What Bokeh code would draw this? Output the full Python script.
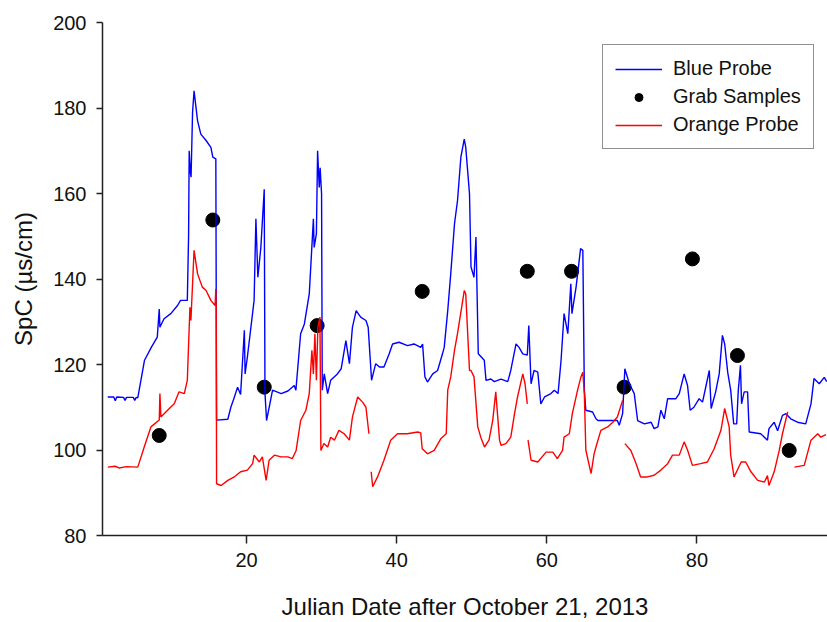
import numpy as np
from bokeh.plotting import figure
from bokeh.models import Range1d, FixedTicker, Legend, LegendItem
from bokeh.embed import file_html
from bokeh.resources import INLINE

NaN = float("nan")

# Blue probe (Julian day, SpC)
blue_x = [1.5, 2.3, 2.5, 2.7, 3.6, 3.8, 4.0, 4.9, 5.1, 5.3, 5.5, 6.4, 7.3, 8.1, 8.36, 8.45, 9.0, 9.9, 10.8,
          11.2, 12.1, 12.27, 12.35, 12.5, 12.6, 12.8, 13.0, 13.47, 13.9, 14.6, 15.24, 15.5, 15.9, 16.0, 17.5,
          17.9, 18.3, 18.8, 19.2, 19.7, 19.8, 20.1, 21.0, 21.24, 21.5, 21.9, 22.35, 22.45, 22.66, 23.46, 24.6,
          25.5, 26.35, 26.57, 27.2, 27.7, 28.35, 28.9, 29.0, 29.3, 29.46, 29.68, 29.8, 29.99, 30.08, 30.35,
          30.8, 31.2, 32.1, 32.6, 33.23, 33.7, 34.1, 34.6, 35.2, 35.9, 36.2, 36.65, 37.2, 37.7, 38.3, 39.0,
          39.45, 40.3, 41.45, 42.3, 43.2, 43.45, 43.76, 44.1, 44.8, 45.45, 46.1, 46.33, 46.8, 47.2, 47.7, 48.1,
          48.55, 49.0, 49.2, 49.7, 49.9, 50.3, 50.56, 50.87, 51.67, 51.9, 52.55, 53.0, 53.9, 54.8, 55.2, 55.9,
          56.3, 56.8, 57.4, 57.6, 57.9, 58.3, 58.8, 59.2, 59.7, 60.55, 61.0, 61.5, 61.9, 62.3, 62.8, 63.2,
          63.35, 63.9, 64.5, 64.8, 65.0, 65.2, 66.1, 66.55, 66.8, 69.4, 69.65, 70.1, 70.4, 71.0, 71.65, 72.1,
          73.0, 73.9, 74.3, 74.8, 75.2, 75.65, 76.1, 77.2, 77.65, 78.3, 78.75, 79.1, 79.6, 80.3, 80.75, 81.65,
          81.9, 82.5, 82.97, 83.4, 83.7, 84.1, 84.5, 84.9, 85.3, 85.5, 85.8, 85.95, 86.3, 86.75, 86.97, 88.5,
          89.4, 89.6, 90.3, 90.75, 91.4, 91.86, 92.5, 93.4, 94.5, 95.2, 95.6, 96.3, 96.97, 97.3]
blue_y = [112.4, 112.4, 111.5, 112.4, 112.3, 111.6, 112.3, 112.3, 111.6, 112.3, 112.2, 121.0, 124.0, 126.4,
          133.0, 128.7, 130.7, 131.9, 133.8, 135.0, 135.0, 150.0, 170.0, 165.0, 163.8, 179.0, 184.0, 177.0,
          173.9, 172.4, 170.8, 168.5, 168.1, 107.0, 107.2, 110.0, 112.0, 114.7, 113.0, 128.0, 117.8, 121.7,
          135.0, 154.1, 140.4, 147.4, 161.0, 113.2, 106.9, 114.0, 113.2, 113.8, 115.1, 114.0, 127.2, 129.5,
          136.5, 154.1, 147.4, 150.6, 170.0, 161.4, 166.0, 159.9, 114.0, 117.8, 113.2, 116.3, 117.8, 119.0,
          125.6, 120.2, 128.7, 132.6, 131.1, 130.3, 128.7, 116.3, 120.2, 119.4, 119.4, 122.5, 124.8, 125.2,
          124.4, 124.8, 124.0, 124.8, 117.1, 115.9, 117.8, 118.6, 122.5, 124.0, 132.6, 141.2, 152.9, 158.3,
          168.5, 172.7, 170.8, 159.9, 142.8, 140.4, 149.8, 122.5, 121.0, 116.3, 116.6, 116.0, 116.6, 116.0,
          118.6, 124.8, 124.0, 122.5, 122.2, 129.1, 115.5, 118.6, 118.2, 110.8, 112.4, 113.2, 114.0, 113.2,
          121.0, 131.9, 127.2, 138.9, 131.9, 138.1, 147.1, 146.7, 114.0, 109.3, 108.9, 107.3, 106.9, 106.9,
          105.8, 108.5, 119.0, 115.5, 113.2, 106.9, 106.1, 106.5, 105.0, 105.4, 109.3, 107.3, 112.0, 112.0,
          113.2, 117.8, 115.1, 109.3, 110.0, 112.0, 111.2, 118.6, 109.7, 113.6, 117.8, 126.8, 124.8, 118.2,
          114.0, 106.1, 106.1, 113.6, 119.8, 110.8, 113.6, 113.6, 104.2, 103.8, 102.3, 105.0, 106.5, 104.5,
          108.1, 108.5, 107.3, 106.5, 106.1, 110.8, 116.7, 115.5, 117.0, 116.0]

# Orange probe (NaN marks gaps in the record)
red_x = [1.5, 2.5, 3.0, 4.0, 5.5, 6.36, 7.25, 8.36, 8.45, 8.58, 9.47, 10.36, 11.0, 11.7, 12.1, 12.45, 12.58,
         13.0, 13.47, 14.1, 14.6, 15.24, 15.8, 15.9, 15.95, 16.0, 16.6, 17.5, 18.35, 19.2, 20.1, 20.8, 21.0,
         21.7, 22.1, 22.6, 23.0, 23.7, 24.6, 25.5, 26.1, 26.6, 27.2, 27.9, 28.35, 28.7, 28.9, 29.1, 29.3, 29.5,
         29.77, 29.9, 30.3, 30.8, 31.2, 31.7, 32.3, 33.0, 33.7, 34.1, 34.8, 35.45, 35.9, 36.3, NaN,
         36.6, 36.8, 37.45, 38.3, 39.2, 40.1, 41.4, 42.8, 43.2, 43.4, 44.1, 45.0, 45.9, 46.6, 46.8, 47.2, 47.7,
         48.1, 48.8, 49.0, 49.2, 49.7, 49.9, 50.3, 50.8, 51.2, 51.7, 52.3, 52.8, 53.2, 53.7, 53.9, 54.55, 55.2,
         55.7, 56.1, 56.8, 57.1, 57.4, NaN,
         57.5, 57.9, 58.8, 59.9, 60.8, 61.4, 62.1, 62.3, 63.0, 63.4, 64.1, 64.55, 64.8, 65.0, 65.2, 65.6, 65.9,
         66.3, 66.55, 67.2, 68.1, 68.8, 69.4, 70.1, NaN,
         70.4, 71.2, 71.9, 72.5, 73.4, 74.3, 75.2, 76.1, 76.75, 77.65, 78.3, 78.75, 79.4, 80.5, 81.4, 82.3,
         83.2, 83.7, 84.3, 84.5, 84.95, 85.9, 86.5, 87.2, 88.1, 89.0, 89.4, 89.6, 90.3, 90.97, 91.4, 92.1, NaN,
         93.0, 94.3, 95.2, 96.1, 96.5, 97.2]
red_y = [96.0, 96.2, 95.8, 96.1, 96.0, 100.7, 105.4, 107.0, 113.2, 107.7, 109.3, 110.8, 113.6, 113.2, 116.3,
         133.4, 130.3, 146.7, 141.2, 138.1, 137.3, 135.0, 133.8, 137.7, 133.5, 92.1, 91.7, 92.9, 93.7, 94.9,
         95.3, 96.8, 98.8, 97.2, 98.4, 92.9, 97.6, 98.8, 98.4, 98.4, 98.0, 99.9, 106.9, 109.3, 113.2, 123.3,
         117.8, 127.2, 116.3, 128.7, 131.1, 99.9, 101.5, 100.7, 103.0, 102.3, 104.6, 103.8, 102.3, 107.7,
         112.4, 111.2, 110.0, 103.8, NaN,
         94.9, 91.4, 93.7, 97.6, 102.3, 103.8, 103.8, 104.2, 104.0, 100.3, 99.1, 99.9, 102.7, 103.8, 114.0,
         117.1, 123.3, 127.2, 135.0, 137.3, 136.5, 118.6, 118.6, 117.1, 105.4, 103.0, 100.7, 102.3, 107.0,
         113.6, 102.3, 101.1, 101.5, 103.0, 108.5, 112.4, 117.8, 115.5, 110.8, NaN,
         102.3, 97.6, 97.2, 99.5, 99.5, 98.0, 99.9, 103.0, 103.8, 108.5, 114.0, 117.1, 118.2, 113.2, 100.0,
         96.8, 94.5, 99.1, 100.7, 104.6, 105.4, 106.5, 107.7, 111.6, NaN,
         101.5, 99.9, 96.8, 93.7, 93.7, 94.1, 95.3, 96.8, 98.8, 98.8, 101.9, 100.0, 96.4, 96.8, 97.2, 100.3,
         104.6, 109.7, 105.4, 98.8, 93.7, 97.2, 97.2, 94.9, 92.9, 92.5, 94.0, 91.7, 94.9, 99.9, 103.8, 108.9,
         NaN,
         96.0, 96.4, 102.3, 103.8, 103.0, 103.6]

# Grab samples
grab_x = [8.36, 15.5, 22.35, 29.4, 43.4, 57.4, 63.3, 70.3, 79.4, 85.4, 92.3]
grab_y = [103.4, 153.8, 114.7, 129.1, 137.1, 141.8, 141.8, 114.7, 144.7, 122.1, 99.9]

x_ticks = [20, 40, 60, 80]
y_ticks = [80, 100, 120, 140, 160, 180, 200]

FONT = "Liberation Sans"
AXC = "#222222"

p = figure(width=827, height=622, output_backend="svg", toolbar_location=None,
           x_range=Range1d(0.8, 97.4), y_range=Range1d(80, 200),
           min_border_left=102, min_border_right=0, min_border_top=22, min_border_bottom=86)
p.outline_line_color = None
p.xgrid.visible = False
p.ygrid.visible = False
p.background_fill_color = "white"
p.border_fill_color = "white"

r_dots = p.scatter(grab_x, grab_y, size=14, color="black")
r_blue = p.line(np.array(blue_x), np.array(blue_y), line_color="#0000ff", line_width=1.4)
r_red = p.line(np.array(red_x, dtype=float), np.array(red_y, dtype=float), line_color="#ff0000", line_width=1.4)

for ax in (p.xaxis[0], p.yaxis[0]):
    ax.axis_line_color = AXC
    ax.axis_line_width = 1.5
    ax.major_tick_line_color = AXC
    ax.major_tick_line_width = 1.5
    ax.minor_tick_line_color = None
    ax.major_tick_in = 0
    ax.major_label_text_font = FONT
    ax.major_label_text_font_size = "20px"
    ax.major_label_text_color = "#111111"
    ax.axis_label_text_font = FONT
    ax.axis_label_text_font_size = "24px"
    ax.axis_label_text_font_style = "normal"
    ax.axis_label_text_color = "#111111"

p.xaxis[0].ticker = FixedTicker(ticks=x_ticks)
p.yaxis[0].ticker = FixedTicker(ticks=y_ticks)
p.xaxis[0].major_tick_out = 8
p.yaxis[0].major_tick_out = 6
p.xaxis[0].major_label_standoff = 9
p.yaxis[0].major_label_standoff = 10
p.xaxis[0].axis_label = "Julian Date after October 21, 2013"
p.yaxis[0].axis_label = "SpC (µs/cm)"
p.xaxis[0].axis_label_standoff = 23
p.yaxis[0].axis_label_standoff = 13

legend = Legend(items=[LegendItem(label="Blue Probe", renderers=[r_blue]),
                       LegendItem(label="Grab Samples", renderers=[r_dots]),
                       LegendItem(label="Orange Probe", renderers=[r_red])],
                location=(500, 386))
legend.margin = 0
legend.padding = 12
legend.spacing = 5
legend.label_height = 20
legend.glyph_height = 20
legend.glyph_width = 47
legend.label_standoff = 11
legend.label_text_font = FONT
legend.label_text_font_size = "20px"
legend.label_text_color = "#111111"
legend.border_line_color = AXC
legend.border_line_width = 1.5
legend.background_fill_color = "white"
legend.background_fill_alpha = 1.0
p.add_layout(legend, "center")

open("out.html", "w").write(file_html(p, INLINE))
